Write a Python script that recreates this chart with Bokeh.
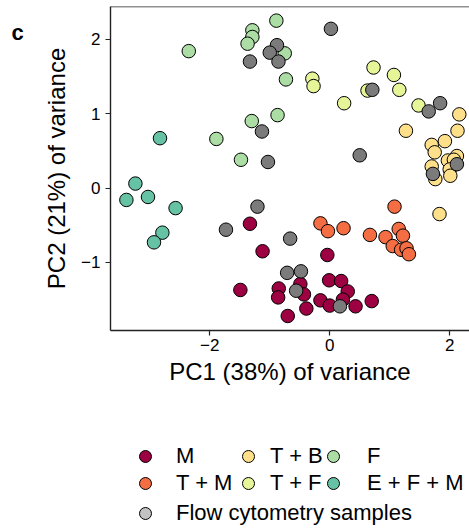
from bokeh.plotting import figure
from bokeh.layouts import column, row
from bokeh.models import Range1d, FixedTicker, Span, Legend, LegendItem, Label
from bokeh.embed import file_html
from bokeh.resources import INLINE

# ---- data (PC1, PC2) ----
groups = ["M", "T + M", "T + B", "T + F", "F", "E + F + M"]
group_colors = ["#9E0142", "#F46D43", "#FEE08B", "#E6F598", "#ABDDA4", "#66C2A5"]

m_x = [-1.33, -1.12, -1.49, -0.85, -0.86, -0.70, -0.04, -0.49, -0.43, -0.39,
       -0.155, -0.01, 0.19, 0.30, 0.22, 0.00, 0.43, 0.70]
m_y = [-0.48, -0.85, -1.37, -1.35, -1.47, -1.72, -0.90, -1.29, -1.43, -1.62,
       -1.51, -1.24, -1.25, -1.39, -1.50, -1.58, -1.59, -1.52]

tm_x = [1.08, -0.155, -0.03, 0.23, 0.67, 0.93, 1.15, 1.22, 1.05, 1.19, 1.28, 1.32]
tm_y = [-0.25, -0.475, -0.58, -0.54, -0.63, -0.66, -0.55, -0.64, -0.78, -0.83, -0.81, -0.89]

tb_x = [2.16, 1.27, 2.13, 1.92, 1.70, 1.75, 2.12, 1.97, 2.07, 1.70, 1.76, 2.00, 2.01, 1.83]
tb_y = [0.99, 0.77, 0.77, 0.63, 0.58, 0.48, 0.43, 0.37, 0.38, 0.29, 0.12, 0.25, 0.165, -0.35]

tf_x = [0.73, 1.07, -0.29, -0.27, 0.63, 1.16, 0.24, 1.48]
tf_y = [1.62, 1.52, 1.47, 1.37, 1.31, 1.32, 1.14, 1.11]

f_x = [-2.35, -0.89, -1.29, -1.29, -1.37, -0.75, -0.73, -0.87, -1.30, -1.89, -1.48]
f_y = [1.84, 2.25, 2.12, 2.03, 1.94, 1.81, 1.46, 0.98, 0.90, 0.66, 0.38]

efm_x = [-2.83, -3.24, -3.39, -3.03, -2.57, -2.79, -2.93]
efm_y = [0.67, 0.06, -0.16, -0.12, -0.27, -0.60, -0.73]

flow_x = [-0.88, -1.00, -1.33, -0.855, -1.13, -1.03, 0.02, 0.71, 1.65, 1.84,
          0.50, 2.12, 1.72, -1.205, -1.73, -0.66, -0.71, -0.48, -0.56, 0.17]
flow_y = [1.92, 1.82, 1.70, 1.70, 0.76, 0.35, 2.14, 1.32, 1.03, 1.14,
          0.44, 0.32, 0.19, -0.25, -0.56, -0.68, -1.14, -1.12, -1.38, -1.59]
flow_label = "Flow cytometry samples"
flow_color = "#7B7B7B"
flow_legend_color = "#C2C2C2"

x_ticks = [-2, 0, 2]
y_ticks = [-1, 0, 1, 2]

FONT = "Liberation Sans"
AX = "#222222"

# ---------------- main scatter figure ----------------
p = figure(width=434, height=440, output_backend="svg", toolbar_location=None,
           title=None,
           x_range=Range1d(-3.655, 2.33), y_range=Range1d(-1.915, 2.44),
           min_border_left=75, min_border_right=0, min_border_top=6,
           min_border_bottom=110)
p.outline_line_color = None
p.xgrid.visible = False
p.ygrid.visible = False

for ax in (p.xaxis[0], p.yaxis[0]):
    ax.axis_line_color = AX
    ax.axis_line_width = 1.4
    ax.major_tick_line_color = AX
    ax.major_tick_line_width = 1.2
    ax.major_tick_in = 0
    ax.major_tick_out = 5
    ax.minor_tick_line_color = None
    ax.major_label_text_font = FONT
    ax.major_label_text_font_size = "17px"
    ax.major_label_text_color = "black"
    ax.axis_label_text_font = FONT
    ax.axis_label_text_font_size = "24px"
    ax.axis_label_text_font_style = "normal"
    ax.axis_label_text_color = "black"

p.xaxis.ticker = FixedTicker(ticks=x_ticks)
p.yaxis.ticker = FixedTicker(ticks=y_ticks)
p.xaxis.major_label_overrides = {t: str(t).replace("-", "\u2212") for t in x_ticks}
p.yaxis.major_label_overrides = {t: str(t).replace("-", "\u2212") for t in y_ticks}
p.xaxis.axis_label = "PC1 (38%) of variance"
p.yaxis.axis_label = "PC2 (21%) of variance"
p.xaxis.major_label_standoff = 3
p.yaxis.major_label_standoff = 5
p.xaxis.axis_label_standoff = 4
p.yaxis.axis_label_standoff = 8

p.add_layout(Span(location=2.44, dimension="width", line_color=AX, line_width=1.4))

series = [(m_x, m_y), (tm_x, tm_y), (tb_x, tb_y), (tf_x, tf_y), (f_x, f_y), (efm_x, efm_y)]
for (xs, ys), col in zip(series, group_colors):
    p.scatter(xs, ys, size=13.5, fill_color=col, line_color="black", line_width=1)
p.scatter(flow_x, flow_y, size=13.5, fill_color=flow_color, line_color="black", line_width=1)

# ---------------- panel letter (pixel-scaled ranges) ----------------
pc = figure(width=35, height=440, output_backend="svg", toolbar_location=None,
            title=None, x_range=Range1d(0, 35), y_range=Range1d(0, 440),
            min_border=0, x_axis_type=None, y_axis_type=None)
pc.outline_line_color = None
pc.xgrid.visible = False
pc.ygrid.visible = False
pc.add_layout(Label(x=11, y=405, text="c", text_baseline="alphabetic",
                    text_font=FONT, text_font_style="bold", text_font_size="22px",
                    text_color="black"))

# ---------------- legend figure ----------------
# ranges chosen so that the legend's source renderers stay out of view
pl = figure(width=469, height=91, output_backend="svg", toolbar_location=None,
            title=None, x_range=Range1d(50, 51), y_range=Range1d(50, 51),
            min_border=0, x_axis_type=None, y_axis_type=None)
pl.outline_line_color = None
pl.xgrid.visible = False
pl.ygrid.visible = False

leg_renderers = [pl.scatter(xs, ys, size=12, fill_color=c, line_color="black", line_width=1)
                 for (xs, ys), c in zip(series, group_colors)]
flow_r = pl.scatter(flow_x, flow_y, size=12, fill_color=flow_legend_color,
                    line_color="black", line_width=1)

legend_specs = [
    (leg_renderers[0], groups[0], (130, 60), 16),
    (leg_renderers[1], groups[1], (130, 33), 16),
    (leg_renderers[2], groups[2], (233, 60), 7),
    (leg_renderers[3], groups[3], (233, 33), 7),
    (leg_renderers[4], groups[4], (318, 60), 19),
    (leg_renderers[5], groups[5], (318, 33), 19),
    (flow_r, flow_label, (130, 3), 16),
]
for r, lab, loc, so in legend_specs:
    leg = Legend(items=[LegendItem(label=lab, renderers=[r])], location=loc,
                 border_line_color=None, background_fill_alpha=0,
                 padding=0, margin=0, spacing=0,
                 glyph_width=30, glyph_height=30, label_height=30,
                 label_standoff=so, label_text_font=FONT,
                 label_text_font_size="22px", label_text_color="black")
    pl.add_layout(leg)

layout = column(row(pc, p, spacing=0), pl, spacing=0)

open("out.html", "w").write(file_html(layout, INLINE))
